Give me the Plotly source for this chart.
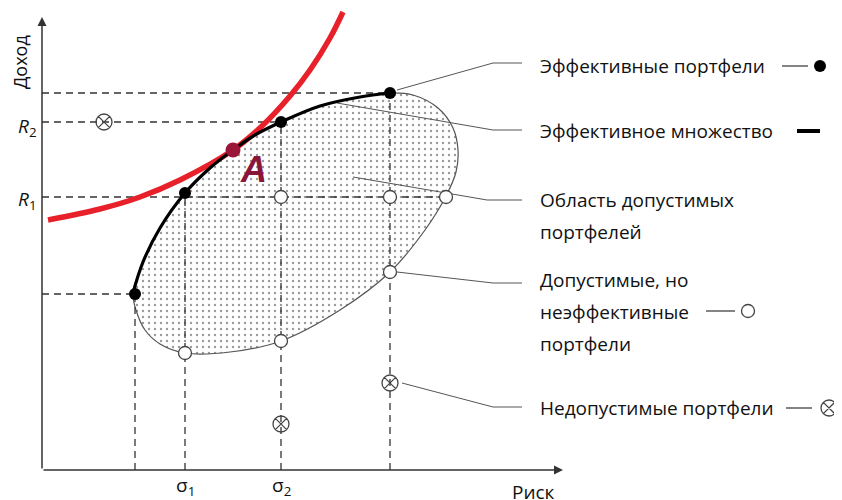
import plotly.graph_objects as go

# ---- data (risk, return) in chart units ----
frontier_risk = [91, 101, 118, 143, 168, 191, 213, 239, 278, 318, 348]
frontier_ret = [177, 208, 242, 277, 302, 320, 335, 348, 364, 373, 377]

region_risk = [348, 371, 396, 411, 416, 414, 404, 383, 348, 298, 239, 188, 143, 118, 103, 94, 91]
region_ret = [377, 375, 362, 342, 320, 298, 274, 240, 198, 160, 129, 118, 117, 126, 140, 160, 177]

indiff_risk = [6, 58, 98, 138, 191, 220, 248, 268, 288, 301]
indiff_ret = [250, 261, 273, 290, 320, 344, 374, 400, 432, 458]

eff_risk = [93, 143, 239, 348]
eff_ret = [176, 277, 348, 377]

feas_risk = [143, 239, 239, 348, 404, 348]
feas_ret = [117, 273, 129, 273, 273, 198]

infeas_risk = [62, 239, 348]
infeas_ret = [348, 46, 87]

point_a = (191, 320)

# dashed guide lines: (risk0, ret0, risk1, ret1)
guides = [
    (0, 377, 348, 377), (0, 348, 239, 348), (0, 273, 404, 273), (0, 176, 93, 176),
    (93, 0, 93, 176), (143, 0, 143, 277), (239, 0, 239, 348), (348, 0, 348, 377),
]

# leader lines
leaders = [
    ([355, 451, 480], [380, 407, 407]),
    ([295, 451, 480], [367, 340, 340]),
    ([311, 445, 480], [293, 270, 270]),
    ([355, 451, 480], [198, 187, 187]),
    ([360, 451, 480], [87, 63, 63]),
]

labels = [
    ("Эффективные портфели", 496, 404),
    ("Эффективное множество", 496, 339),
    ("Область допустимых", 496, 270),
    ("портфелей", 496, 238),
    ("Допустимые, но", 496, 190),
    ("неэффективные", 496, 158),
    ("портфели", 496, 126),
    ("Недопустимые портфели", 496, 62),
]

fig = go.Figure()

# feasible region
fig.add_trace(go.Scatter(
    x=frontier_risk + region_risk[1:-1] + [frontier_risk[0]],
    y=frontier_ret + region_ret[1:-1] + [frontier_ret[0]],
    mode="lines", line=dict(color="#555555", width=1.2, shape="spline", smoothing=1.0),
    fill="toself", fillcolor="white",
    fillpattern=dict(shape=".", size=6, solidity=0.12, fgcolor="#333333", bgcolor="white"),
    hoverinfo="skip", showlegend=False))

# dashed guides
for x0, y0, x1, y1 in guides:
    fig.add_trace(go.Scatter(x=[x0, x1], y=[y0, y1], mode="lines",
                             line=dict(color="#333333", width=1.3, dash="7px,5px"),
                             hoverinfo="skip", showlegend=False))

# leaders
for lx, ly in leaders:
    fig.add_trace(go.Scatter(x=lx, y=ly, mode="lines", line=dict(color="#555555", width=1),
                             hoverinfo="skip", showlegend=False))

# indifference curve
fig.add_trace(go.Scatter(x=indiff_risk, y=indiff_ret, mode="lines",
                         line=dict(color="#e8202a", width=5.5, shape="spline", smoothing=1.0),
                         hoverinfo="skip", showlegend=False))

# efficient frontier
fig.add_trace(go.Scatter(x=frontier_risk, y=frontier_ret, mode="lines",
                         line=dict(color="black", width=3.2, shape="spline"),
                         hoverinfo="skip", showlegend=False))

# points
fig.add_trace(go.Scatter(x=eff_risk, y=eff_ret, mode="markers",
                         marker=dict(color="black", size=12), showlegend=False))
fig.add_trace(go.Scatter(x=feas_risk, y=feas_ret, mode="markers",
                         marker=dict(color="white", size=13, line=dict(color="#444444", width=1.3)),
                         showlegend=False))
fig.add_trace(go.Scatter(x=infeas_risk, y=infeas_ret, mode="markers",
                         marker=dict(symbol="circle-x-open", color="#444444", size=16,
                                     line=dict(width=1.3)),
                         showlegend=False))
fig.add_trace(go.Scatter(x=[point_a[0]], y=[point_a[1]], mode="markers",
                         marker=dict(color="#9b1538", size=15), showlegend=False))

# legend glyphs on right
fig.add_trace(go.Scatter(x=[740, 766], y=[404, 404], mode="lines", line=dict(color="#333", width=1.2),
                         showlegend=False))
fig.add_trace(go.Scatter(x=[778], y=[404], mode="markers", marker=dict(color="black", size=12),
                         showlegend=False))
fig.add_trace(go.Scatter(x=[755, 778], y=[339, 339], mode="lines", line=dict(color="black", width=4),
                         showlegend=False))
fig.add_trace(go.Scatter(x=[664, 693], y=[159, 159], mode="lines", line=dict(color="#333", width=1.2),
                         showlegend=False))
fig.add_trace(go.Scatter(x=[706], y=[159], mode="markers",
                         marker=dict(color="white", size=13, line=dict(color="#444", width=1.3)),
                         showlegend=False))
fig.add_trace(go.Scatter(x=[744, 770], y=[62, 62], mode="lines", line=dict(color="#333", width=1.2),
                         showlegend=False))
fig.add_trace(go.Scatter(x=[787], y=[62], mode="markers",
                         marker=dict(symbol="circle-x-open", color="#444", size=16, line=dict(width=1.3)),
                         showlegend=False))

ann = []
# axes as arrows
ann.append(dict(x=0, y=453, ax=0, ay=0, xref="x", yref="y", axref="x", ayref="y",
                showarrow=True, arrowhead=2, arrowsize=1.2, arrowwidth=1.5, arrowcolor="#333", text=""))
ann.append(dict(x=521, y=0, ax=0, ay=0, xref="x", yref="y", axref="x", ayref="y",
                showarrow=True, arrowhead=2, arrowsize=1.2, arrowwidth=1.5, arrowcolor="#333", text=""))

font = dict(family="Open Sans", size=19, color="#111111")
for t, x, y in labels:
    ann.append(dict(x=x, y=y, text=t, showarrow=False, xanchor="left", yanchor="middle", font=font))

ann.append(dict(x=-22, y=408, text="Доход", textangle=-90, showarrow=False,
                font=dict(family="Open Sans", size=18, color="#111111")))
ann.append(dict(x=-15, y=343, text="<i>R</i><sub>2</sub>", showarrow=False, font=font))
ann.append(dict(x=-15, y=270, text="<i>R</i><sub>1</sub>", showarrow=False, font=font))
ann.append(dict(x=143, y=-16, text="σ<sub>1</sub>", showarrow=False, font=font))
ann.append(dict(x=239, y=-16, text="σ<sub>2</sub>", showarrow=False, font=font))
ann.append(dict(x=491, y=-22, text="Риск", showarrow=False, font=font))
ann.append(dict(x=211, y=301, text="<b><i>A</i></b>", showarrow=False,
                font=dict(family="Liberation Sans", size=36, color="#8b1538")))

# page body has an 8px margin: figure is 834x492 and ranges keep 1 unit = 1 px
fig.update_layout(
    width=834, height=492, margin=dict(l=0, r=0, t=0, b=0),
    paper_bgcolor="white", plot_bgcolor="white",
    xaxis=dict(range=[-34, 800], visible=False, fixedrange=True),
    yaxis=dict(range=[-30, 462], visible=False, fixedrange=True),
    annotations=ann, showlegend=False,
)

fig.write_html("out.html")
